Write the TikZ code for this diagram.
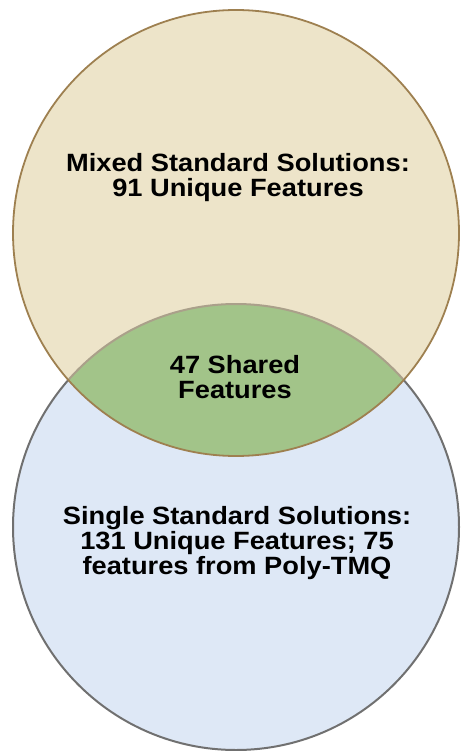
\documentclass[tikz,border=0pt]{standalone}
\usepackage{fontspec}
\setmainfont{Liberation Sans}
\newfontfamily\widesans[FakeStretch=1.09]{Liberation Sans}
\definecolor{beige}{RGB}{237,228,201}
\definecolor{lightblue}{RGB}{222,232,246}
\definecolor{sharedgreen}{RGB}{162,196,137}
\definecolor{brownline}{RGB}{158,128,80}
\definecolor{grayline}{RGB}{112,112,112}
\definecolor{lensline}{RGB}{170,160,138}
\tikzset{
  lbl/.style={align=center, inner sep=0pt, text=black},
  big/.style={font=\widesans\bfseries\fontsize{25}{24.8}\selectfont},
}
\begin{document}
\setlength{\lineskiplimit}{-30pt}
\begin{tikzpicture}[x=1pt,y=-1pt]
\useasboundingbox (0,0) rectangle (460,751);
\coordinate (ctop) at (236,233);
\coordinate (cbot) at (236,527);
% fills
\fill[beige] (ctop) circle[radius=223];
\fill[lightblue] (cbot) circle[radius=223];
\begin{scope}
  \clip (ctop) circle[radius=223];
  \fill[sharedgreen] (cbot) circle[radius=223];
\end{scope}
% outlines
\begin{scope}[even odd rule]
  \clip (-10,-10) rectangle (470,760) (ctop) circle[radius=223];
  \draw[grayline, line width=2pt] (cbot) circle[radius=223];
\end{scope}
\begin{scope}
  \clip (ctop) circle[radius=223];
  \draw[lensline, line width=2pt] (cbot) circle[radius=223];
\end{scope}
\draw[brownline, line width=1.8pt] (ctop) circle[radius=223];
% labels
\node[lbl, big] (mixed) at (238,177.7) {Mixed Standard Solutions:\\91 Unique Features};
\node[lbl, big] (shared) at (235,376.7) {47 Shared\\Features};
\node[lbl, big] (single) at (237,543.3) {Single Standard Solutions:\\131 Unique Features; 75\\features from Poly-TMQ};
\end{tikzpicture}
\end{document}
